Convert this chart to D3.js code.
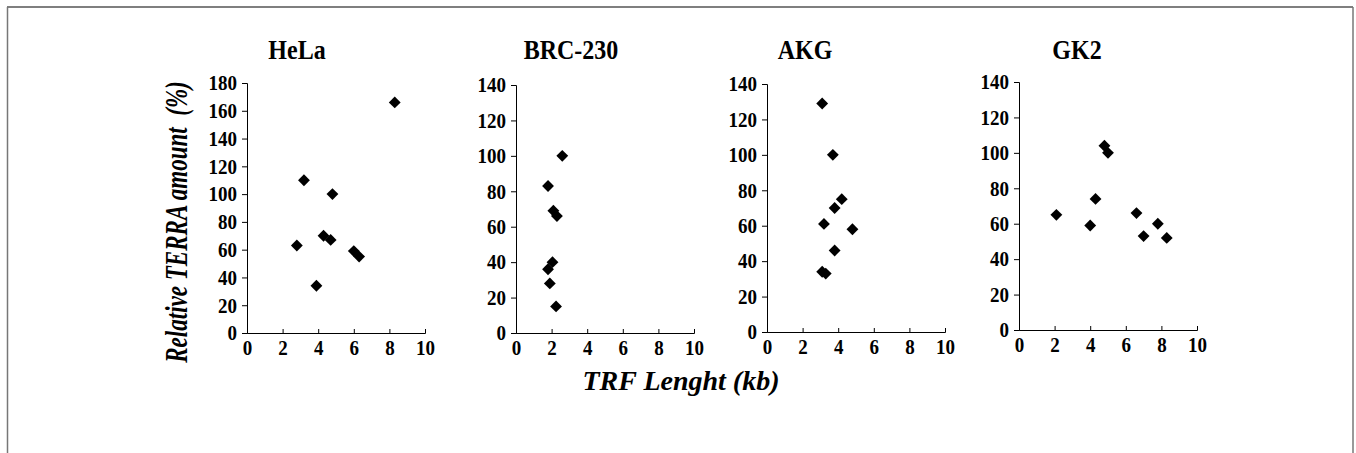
<!DOCTYPE html>
<html>
<head>
<meta charset="utf-8">
<script src="https://cdn.jsdelivr.net/npm/d3@7"></script>
<style>
  body { margin: 0; background: #fff; }
  text { font-family: "Liberation Serif", "Times New Roman", serif; font-weight: bold; }
</style>
</head>
<body>
<div id="chart"></div>
<script>
// panel names
const cellLines = ["HeLa", "BRC-230", "AKG", "GK2"];

// TRF length (kb) and relative TERRA amount (%) per cell line
const helaX = [8.3, 3.2, 4.8, 2.8, 4.3, 4.7, 6.0, 6.3, 3.9];
const helaY = [166, 110, 100, 63, 70, 67, 59, 55, 34];
const brcX = [2.6, 1.8, 2.1, 2.3, 2.05, 1.8, 1.9, 2.25];
const brcY = [100, 83, 69, 66, 40, 36, 28, 15];
const akgX = [3.1, 3.7, 4.2, 3.8, 3.2, 4.8, 3.8, 3.1, 3.3];
const akgY = [129, 100, 75, 70, 61, 58, 46, 34, 33];
const gk2X = [4.8, 5.0, 4.3, 2.1, 4.0, 6.6, 7.0, 7.8, 8.3];
const gk2Y = [104, 100, 74, 65, 59, 66, 53, 60, 52];

const xTicks = [0, 2, 4, 6, 8, 10];
const yMax = [180, 140, 140, 140];

const W = 1356, H = 453;
const svg = d3.select("#chart").append("svg")
  .attr("width", W)
  .attr("height", H);

// frame (open at the bottom)
svg.append("line").attr("x1", 7).attr("x2", 1353).attr("y1", 7).attr("y2", 7)
  .attr("stroke", "#000").attr("stroke-width", 1.2);
svg.append("line").attr("x1", 7.5).attr("x2", 7.5).attr("y1", 7).attr("y2", H)
  .attr("stroke", "#777").attr("stroke-width", 1.5);
svg.append("line").attr("x1", 1353).attr("x2", 1353).attr("y1", 7).attr("y2", H)
  .attr("stroke", "#777").attr("stroke-width", 1.5);

const panels = [
  { xs: helaX, ys: helaY, left: 247, top: 83, bottom: 333, title: 297 },
  { xs: brcX, ys: brcY, left: 516, top: 85, bottom: 333, title: 571 },
  { xs: akgX, ys: akgY, left: 767, top: 84, bottom: 332, title: 805 },
  { xs: gk2X, ys: gk2Y, left: 1019, top: 82, bottom: 330, title: 1077 }
];
const plotW = 178;

const diamond = d3.symbol().type(d3.symbolSquare).size(70);

panels.forEach((p, i) => {
  const x = d3.scaleLinear().domain([0, 10]).range([p.left, p.left + plotW]);
  const y = d3.scaleLinear().domain([0, yMax[i]]).range([p.bottom, p.top]);

  const g = svg.append("g");

  const yAxis = g.append("g")
    .attr("transform", `translate(${p.left},0)`)
    .call(d3.axisLeft(y).tickValues(d3.range(0, yMax[i] + 1, 20)).tickSize(5).tickPadding(5));
  const xAxis = g.append("g")
    .attr("transform", `translate(0,${p.bottom})`)
    .call(d3.axisBottom(x).tickValues(xTicks).tickSize(-4).tickPadding(6));

  [yAxis, xAxis].forEach((a) => {
    a.select(".domain").attr("stroke", "#000");
    a.selectAll(".tick line").attr("stroke", "#000");
    a.selectAll("text")
      .attr("fill", "#000")
      .attr("font-size", "19px")
      .attr("font-family", "Liberation Serif, serif")
      .attr("font-weight", "bold")
      .attr("transform", "scale(1,1.12)");
  });

  g.append("text")
    .attr("transform", `translate(${p.title},59) scale(1,1.15)`)
    .attr("text-anchor", "middle")
    .attr("font-size", "24px")
    .text(cellLines[i]);

  g.selectAll(".pt")
    .data(p.xs.map((v, k) => [v, p.ys[k]]))
    .join("path")
    .attr("class", "pt")
    .attr("d", diamond)
    .attr("transform", (d) => `translate(${x(d[0])},${y(d[1])}) rotate(45)`)
    .attr("fill", "#000");
});

// axis titles
svg.append("text")
  .attr("transform", "translate(187,222) rotate(-90) scale(0.72,1)")
  .attr("text-anchor", "middle")
  .attr("font-size", "32px")
  .attr("font-style", "italic")
  .style("white-space", "pre")
  .text("Relative TERRA amount  (%)");

svg.append("text")
  .attr("x", 681)
  .attr("y", 390)
  .attr("text-anchor", "middle")
  .attr("font-size", "28px")
  .attr("font-style", "italic")
  .text("TRF Lenght (kb)");
</script>
</body>
</html>
